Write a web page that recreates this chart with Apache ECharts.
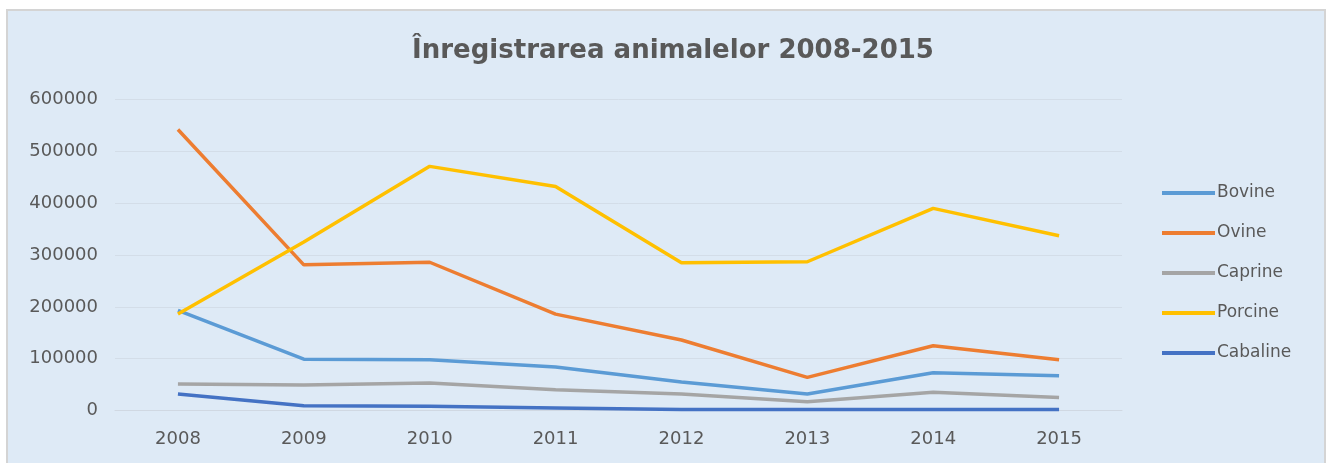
<!DOCTYPE html>
<html>
<head>
<meta charset="utf-8">
<script src="https://cdn.jsdelivr.net/npm/echarts@6/dist/echarts.min.js"></script>
<style>
  html, body { margin: 0; padding: 0; background: #ffffff; }
  #chart { width: 1330px; height: 463px; }
</style>
</head>
<body>
<div id="chart"></div>
<script>
// date din grafic
const years = ['2008', '2009', '2010', '2011', '2012', '2013', '2014', '2015']
const bovine = [193000, 99000, 98000, 84000, 55000, 32000, 73000, 67000]
const ovine = [542000, 281000, 286000, 186000, 136000, 64000, 125000, 98000]
const caprine = [51000, 49000, 53000, 40000, 32000, 17000, 35000, 25000]
const porcine = [186000, 325000, 471000, 432000, 285000, 287000, 390000, 337000]
const cabaline = [32000, 9000, 8000, 5000, 2000, 2000, 2000, 2000]

const chart = echarts.init(document.getElementById('chart'))

const textColor = '#595959'
const font = 'DejaVu Sans'

const mkLine = (name, data, color) => ({
  name,
  type: 'line',
  data,
  symbol: 'none',
  lineStyle: { width: 3.5, color },
  itemStyle: { color },
})

const option = {
  backgroundColor: '#ffffff',
  animation: false,
  // fundalul albastru al graficului
  graphic: [
    {
      type: 'rect',
      z: -10,
      shape: { x: 7, y: 10, width: 1318, height: 460 },
      style: { fill: '#deeaf6', stroke: '#d4d4d4', lineWidth: 2 },
    },
  ],
  title: {
    text: 'Înregistrarea animalelor 2008-2015',
    left: 668,
    textAlign: 'center',
    top: 33,
    textStyle: { color: textColor, fontFamily: font, fontSize: 26, fontWeight: 'bold' },
  },
  legend: {
    orient: 'vertical',
    left: 1162,
    top: 183,
    padding: 0,
    icon: 'rect',
    itemWidth: 53,
    itemHeight: 4,
    itemGap: 20,
    textStyle: { color: textColor, fontFamily: font, fontSize: 17, padding: [0, 0, 0, -3], lineHeight: 20 },
    data: ['Bovine', 'Ovine', 'Caprine', 'Porcine', 'Cabaline'],
  },
  grid: {
    left: 115,
    right: 208,
    top: 99.5,
    bottom: 52.5,
  },
  xAxis: {
    type: 'category',
    data: years,
    boundaryGap: true,
    axisLine: { show: true, lineStyle: { color: '#d0d8e2', width: 1 } },
    axisTick: { show: false },
    axisLabel: { color: textColor, fontFamily: font, fontSize: 18, margin: 20 },
  },
  yAxis: {
    type: 'value',
    min: 0,
    max: 600000,
    interval: 100000,
    axisLine: { show: false },
    axisTick: { show: false },
    axisLabel: { color: textColor, fontFamily: font, fontSize: 18, margin: 17, formatter: (v) => String(v) },
    splitLine: { lineStyle: { color: '#d3dde8', width: 1 } },
  },
  series: [
    mkLine('Bovine', bovine, '#5b9bd5'),
    mkLine('Ovine', ovine, '#ed7d31'),
    mkLine('Caprine', caprine, '#a5a5a5'),
    mkLine('Porcine', porcine, '#ffc000'),
    mkLine('Cabaline', cabaline, '#4472c4'),
  ],
}

chart.setOption(option)
</script>
</body>
</html>
